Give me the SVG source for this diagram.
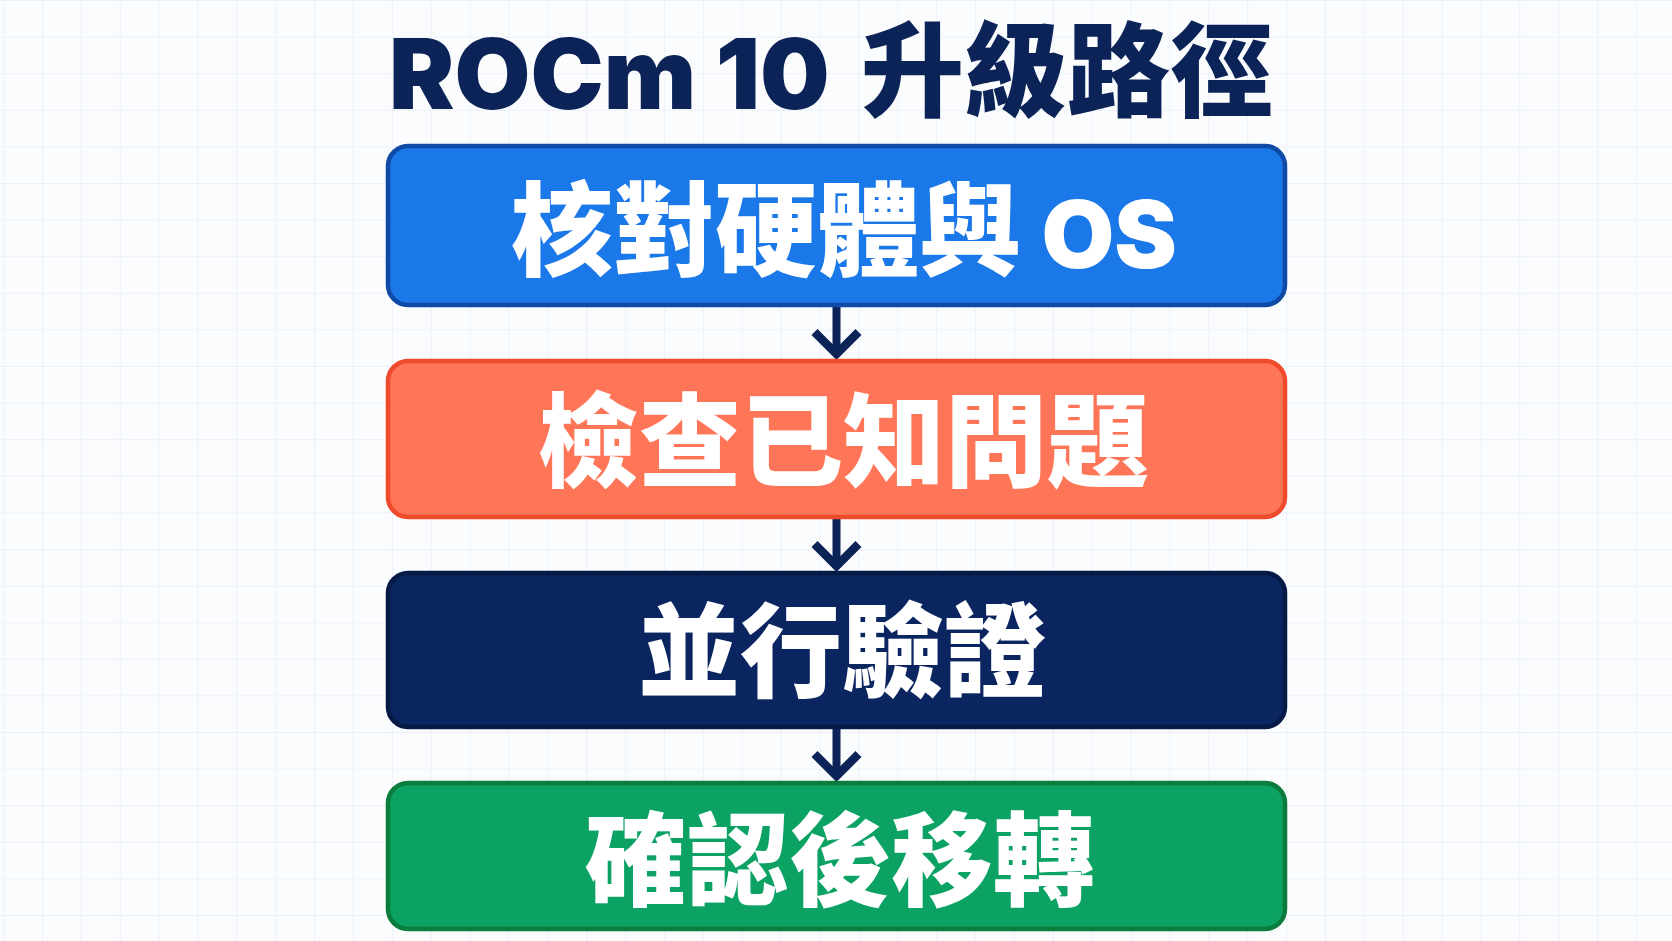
<svg xmlns="http://www.w3.org/2000/svg" width="1672" height="941" viewBox="0 0 1672 941">
  <style>
    .title { font-family: "Inter", "Noto Sans CJK TC", "Noto Sans", sans-serif; font-weight: 900; fill: #0b2357; }
    .label { font-family: "Inter", "Noto Sans CJK TC", "Noto Sans", sans-serif; font-weight: 900; fill: #ffffff; text-anchor: middle; font-size: 102px; }
    .box { stroke-width: 4.5; }
    .conn { stroke: #0b2357; stroke-width: 8; fill: none; }
  </style>
  <defs>
    <pattern id="grid" patternUnits="userSpaceOnUse" x="3" y="0" width="38.88" height="36.6">
      <path d="M0,0 V36.6 M0,0 H38.88" fill="none" stroke="#ecf1f8" stroke-width="2.2"/>
    </pattern>
    <marker id="chev" markerUnits="userSpaceOnUse" viewBox="-30 -30 40 60" refX="0" refY="0" markerWidth="40" markerHeight="60" orient="auto" overflow="visible">
      <path d="M-22,-22 L0,0 L-22,22" fill="none" stroke="#0b2357" stroke-width="8.5" stroke-linejoin="miter"/>
    </marker>
  </defs>

  <rect x="0" y="0" width="1672" height="941" fill="#fbfcfe"/>
  <rect x="0" y="0" width="1672" height="941" fill="url(#grid)"/>

  <text class="title" x="389" y="109" font-size="98">ROCm 10<tspan x="861" font-size="103">升級路徑</tspan></text>

  <g id="connectors">
    <line class="conn" x1="836.5" y1="306" x2="836.5" y2="354" marker-end="url(#chev)"/>
    <line class="conn" x1="836.5" y1="518" x2="836.5" y2="566" marker-end="url(#chev)"/>
    <line class="conn" x1="836.5" y1="727" x2="836.5" y2="776" marker-end="url(#chev)"/>
  </g>

  <g id="node1">
    <rect class="box" x="388" y="146" width="897" height="159" rx="20" fill="#1b78e8" stroke="#0e4aa6"/>
    <text class="label" x="844" y="268" font-size="100">核對硬體與 <tspan font-size="94">OS</tspan></text>
  </g>
  <g id="node2">
    <rect class="box" x="388" y="361" width="897" height="156" rx="20" fill="#ff7558" stroke="#f04a2c"/>
    <text class="label" x="843" y="479">檢查已知問題</text>
  </g>
  <g id="node3">
    <rect class="box" x="388" y="573" width="897" height="154" rx="20" fill="#0b2560" stroke="#061a46"/>
    <text class="label" x="842" y="689">並行驗證</text>
  </g>
  <g id="node4">
    <rect class="box" x="388" y="783" width="897" height="146" rx="20" fill="#0ba264" stroke="#0b7c3b"/>
    <text class="label" x="840" y="898">確認後移轉</text>
  </g>
</svg>
